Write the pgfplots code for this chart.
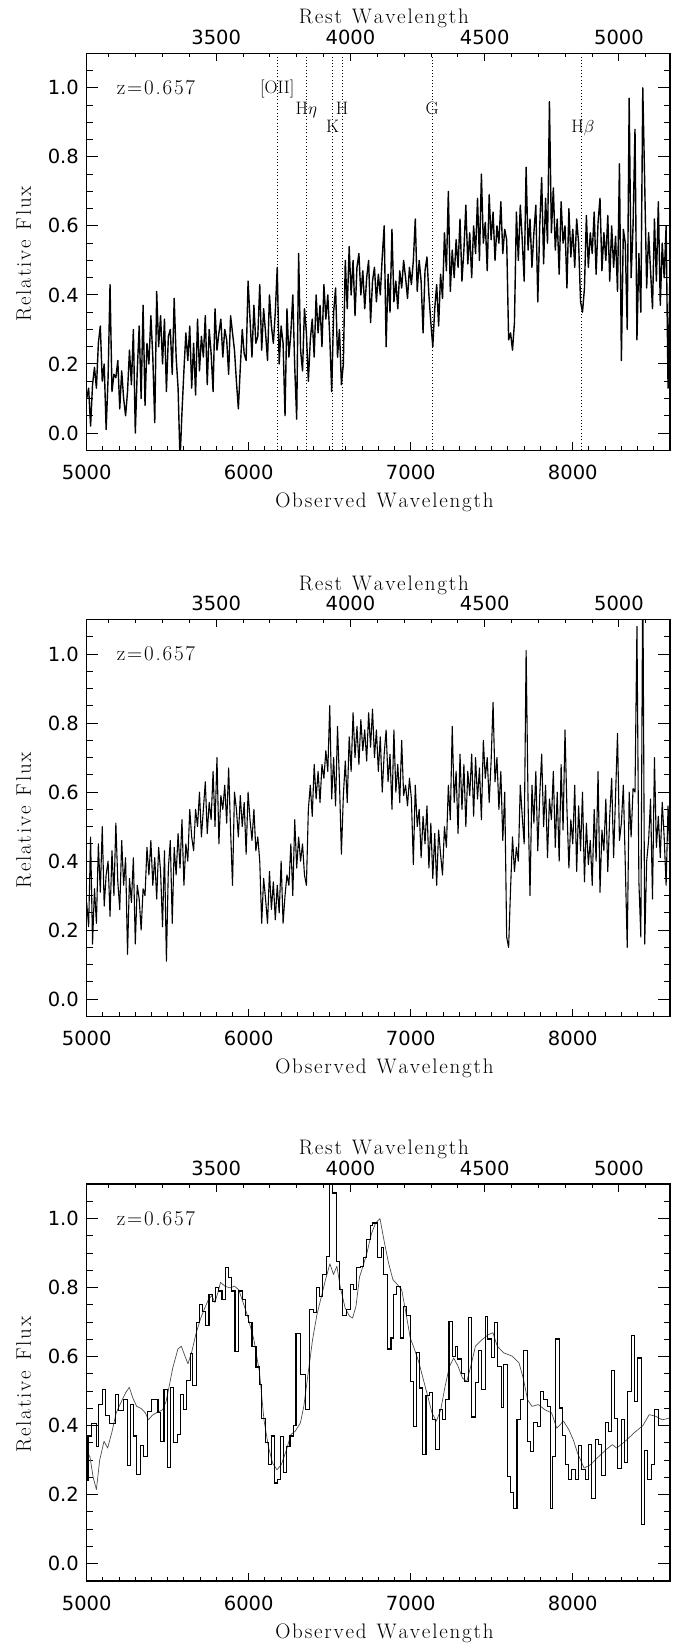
\documentclass[border=0pt]{standalone}
\usepackage{fontspec}
\usepackage{pgfplots}
\usepackage{pgfplotstable}
\pgfplotsset{compat=1.18}
\newfontfamily\tickfont{DejaVu Sans}
\newcommand\tickfs{\fontsize{19.5}{20}\selectfont\tickfont}
\newcommand\labfs{\fontsize{21}{22}\selectfont}
\newcommand\linefs{\fontsize{18}{19}\selectfont}
\makeatletter
\newcommand\lab[1]{\@tfor\sp@c:=#1\do{\sp@c\kern1.8pt}}
\makeatother

\pgfplotstableread[row sep=\\]{
x y\\
5000 0.10\\ 5012 0.13\\ 5024 0.02\\ 5036 0.14\\ 5048 0.19\\ 5060 0.13\\ 5072 0.26\\ 5084 0.31\\ 5096 0.15\\ 5108 0.20\\
5120 0.01\\ 5132 0.16\\ 5144 0.43\\ 5156 0.12\\ 5168 0.17\\ 5180 0.16\\ 5192 0.21\\ 5204 0.07\\ 5216 0.18\\ 5228 0.10\\
5240 0.05\\ 5252 0.12\\ 5264 0.24\\ 5276 0.14\\ 5288 0.30\\ 5300 0.00\\ 5312 0.18\\ 5324 0.31\\ 5336 0.10\\ 5348 0.37\\
5360 0.08\\ 5372 0.26\\ 5384 0.20\\ 5396 0.34\\ 5408 0.22\\ 5420 0.03\\ 5432 0.41\\ 5444 0.25\\ 5456 0.34\\ 5468 0.20\\
5480 0.33\\ 5492 0.12\\ 5504 0.28\\ 5516 0.30\\ 5528 0.17\\ 5540 0.39\\ 5552 0.22\\ 5564 0.13\\ 5576 -0.08\\ 5588 0.06\\
5600 0.18\\ 5612 0.29\\ 5624 0.21\\ 5636 0.31\\ 5648 0.13\\ 5660 0.26\\ 5672 0.11\\ 5684 0.33\\ 5696 0.18\\ 5708 0.28\\
5720 0.22\\ 5732 0.34\\ 5744 0.14\\ 5756 0.30\\ 5768 0.23\\ 5780 0.12\\ 5792 0.36\\ 5804 0.24\\ 5816 0.29\\ 5828 0.33\\
5840 0.22\\ 5852 0.30\\ 5864 0.27\\ 5876 0.17\\ 5888 0.34\\ 5900 0.29\\ 5912 0.24\\ 5924 0.15\\ 5936 0.07\\ 5948 0.19\\
5960 0.30\\ 5972 0.23\\ 5984 0.21\\ 5996 0.44\\ 6008 0.33\\ 6020 0.22\\ 6032 0.37\\ 6044 0.26\\ 6056 0.28\\ 6068 0.43\\
6080 0.24\\ 6092 0.36\\ 6104 0.29\\ 6116 0.21\\ 6128 0.40\\ 6140 0.31\\ 6152 0.26\\ 6164 0.35\\ 6176 0.48\\ 6188 0.20\\
6200 0.31\\ 6212 0.26\\ 6224 0.05\\ 6236 0.36\\ 6248 0.22\\ 6260 0.29\\ 6272 0.40\\ 6284 0.19\\ 6296 0.04\\ 6308 0.52\\
6320 0.24\\ 6332 0.18\\ 6344 0.36\\ 6356 0.29\\ 6368 0.15\\ 6380 0.27\\ 6392 0.33\\ 6404 0.22\\ 6416 0.40\\ 6428 0.29\\
6440 0.37\\ 6452 0.25\\ 6464 0.43\\ 6476 0.33\\ 6488 0.40\\ 6500 0.28\\ 6512 0.12\\ 6524 0.35\\ 6536 0.42\\ 6548 0.22\\
6560 0.30\\ 6572 0.14\\ 6584 0.20\\ 6596 0.50\\ 6608 0.36\\ 6620 0.54\\ 6632 0.40\\ 6644 0.50\\ 6656 0.34\\ 6668 0.48\\
6680 0.52\\ 6692 0.40\\ 6704 0.47\\ 6716 0.36\\ 6728 0.45\\ 6740 0.50\\ 6752 0.32\\ 6764 0.44\\ 6776 0.48\\ 6788 0.38\\
6800 0.46\\ 6812 0.40\\ 6824 0.51\\ 6836 0.60\\ 6848 0.25\\ 6860 0.46\\ 6872 0.35\\ 6884 0.59\\ 6896 0.38\\ 6908 0.44\\
6920 0.36\\ 6932 0.47\\ 6944 0.42\\ 6956 0.50\\ 6968 0.45\\ 6980 0.39\\ 6992 0.48\\ 7004 0.43\\ 7016 0.50\\ 7028 0.62\\
7040 0.41\\ 7052 0.50\\ 7064 0.44\\ 7076 0.29\\ 7088 0.47\\ 7100 0.51\\ 7112 0.40\\ 7124 0.32\\ 7136 0.25\\ 7148 0.36\\
7160 0.43\\ 7172 0.31\\ 7184 0.46\\ 7196 0.39\\ 7208 0.58\\ 7220 0.47\\ 7232 0.70\\ 7244 0.41\\ 7256 0.53\\ 7268 0.45\\
7280 0.56\\ 7292 0.48\\ 7304 0.62\\ 7316 0.44\\ 7328 0.53\\ 7340 0.66\\ 7352 0.49\\ 7364 0.58\\ 7376 0.45\\ 7388 0.60\\
7400 0.52\\ 7412 0.68\\ 7424 0.50\\ 7436 0.75\\ 7448 0.55\\ 7460 0.61\\ 7472 0.47\\ 7484 0.69\\ 7496 0.56\\ 7508 0.64\\
7520 0.50\\ 7532 0.60\\ 7544 0.55\\ 7556 0.67\\ 7568 0.52\\ 7580 0.59\\ 7592 0.56\\ 7604 0.27\\ 7616 0.29\\ 7628 0.24\\
7640 0.32\\ 7652 0.64\\ 7664 0.50\\ 7676 0.66\\ 7688 0.56\\ 7700 0.44\\ 7712 0.77\\ 7724 0.53\\ 7736 0.62\\ 7748 0.48\\
7760 0.58\\ 7772 0.66\\ 7784 0.38\\ 7796 0.60\\ 7808 0.74\\ 7820 0.49\\ 7832 0.68\\ 7844 0.55\\ 7856 0.96\\ 7868 0.58\\
7880 0.71\\ 7892 0.53\\ 7904 0.62\\ 7916 0.46\\ 7928 0.67\\ 7940 0.55\\ 7952 0.60\\ 7964 0.42\\ 7976 0.65\\ 7988 0.51\\
8000 0.59\\ 8012 0.48\\ 8024 0.62\\ 8036 0.55\\ 8048 0.38\\ 8060 0.35\\ 8072 0.42\\ 8084 0.63\\ 8096 0.48\\ 8108 0.58\\
8120 0.52\\ 8132 0.64\\ 8144 0.46\\ 8156 0.61\\ 8168 0.68\\ 8180 0.47\\ 8192 0.58\\ 8204 0.50\\ 8216 0.63\\ 8228 0.44\\
8240 0.60\\ 8252 0.48\\ 8264 0.57\\ 8276 0.41\\ 8288 0.78\\ 8300 0.21\\ 8312 0.59\\ 8324 0.55\\ 8336 0.30\\ 8348 0.97\\
8360 0.45\\ 8372 0.60\\ 8384 0.88\\ 8396 0.27\\ 8408 0.52\\ 8420 0.35\\ 8432 1.00\\ 8444 0.72\\ 8456 0.42\\ 8468 0.58\\
8480 0.47\\ 8492 0.36\\ 8504 0.62\\ 8516 0.44\\ 8528 0.67\\ 8540 0.37\\ 8552 0.55\\ 8564 0.45\\ 8576 0.60\\ 8588 0.13\\ 8600 0.48\\
}\specA

\pgfplotstableread[row sep=\\]{
x y\\
5000 0.28\\ 5012 0.21\\ 5024 0.47\\ 5036 0.16\\ 5048 0.32\\ 5060 0.22\\ 5072 0.45\\ 5084 0.31\\ 5096 0.50\\ 5108 0.27\\
5120 0.36\\ 5132 0.40\\ 5144 0.24\\ 5156 0.43\\ 5168 0.30\\ 5180 0.51\\ 5192 0.34\\ 5204 0.26\\ 5216 0.46\\ 5228 0.33\\
5240 0.41\\ 5252 0.13\\ 5264 0.35\\ 5276 0.28\\ 5288 0.41\\ 5300 0.16\\ 5312 0.33\\ 5324 0.29\\ 5336 0.20\\ 5348 0.32\\
5360 0.30\\ 5372 0.44\\ 5384 0.36\\ 5396 0.46\\ 5408 0.33\\ 5420 0.41\\ 5432 0.29\\ 5444 0.44\\ 5456 0.37\\ 5468 0.21\\
5480 0.43\\ 5492 0.11\\ 5504 0.38\\ 5516 0.46\\ 5528 0.22\\ 5540 0.44\\ 5552 0.36\\ 5564 0.48\\ 5576 0.38\\ 5588 0.52\\
5600 0.33\\ 5612 0.45\\ 5624 0.40\\ 5636 0.55\\ 5648 0.47\\ 5660 0.43\\ 5672 0.55\\ 5684 0.50\\ 5696 0.60\\ 5708 0.47\\
5720 0.55\\ 5732 0.63\\ 5744 0.48\\ 5756 0.57\\ 5768 0.52\\ 5780 0.66\\ 5792 0.50\\ 5804 0.70\\ 5816 0.45\\ 5828 0.59\\
5840 0.55\\ 5852 0.62\\ 5864 0.51\\ 5876 0.67\\ 5888 0.49\\ 5900 0.33\\ 5912 0.60\\ 5924 0.55\\ 5936 0.47\\ 5948 0.59\\
5960 0.50\\ 5972 0.57\\ 5984 0.42\\ 5996 0.60\\ 6008 0.52\\ 6020 0.46\\ 6032 0.55\\ 6044 0.43\\ 6056 0.47\\ 6068 0.40\\
6080 0.22\\ 6092 0.35\\ 6104 0.29\\ 6116 0.22\\ 6128 0.37\\ 6140 0.26\\ 6152 0.34\\ 6164 0.23\\ 6176 0.33\\ 6188 0.25\\
6200 0.40\\ 6212 0.22\\ 6224 0.30\\ 6236 0.36\\ 6248 0.33\\ 6260 0.45\\ 6272 0.30\\ 6284 0.52\\ 6296 0.38\\ 6308 0.47\\
6320 0.40\\ 6332 0.45\\ 6344 0.36\\ 6356 0.33\\ 6368 0.55\\ 6380 0.62\\ 6392 0.53\\ 6404 0.68\\ 6416 0.58\\ 6428 0.66\\
6440 0.57\\ 6452 0.68\\ 6464 0.64\\ 6476 0.72\\ 6488 0.66\\ 6500 0.85\\ 6512 0.58\\ 6524 0.70\\ 6536 0.56\\ 6548 0.79\\
6560 0.63\\ 6572 0.42\\ 6584 0.59\\ 6596 0.69\\ 6608 0.57\\ 6620 0.76\\ 6632 0.66\\ 6644 0.83\\ 6656 0.70\\ 6668 0.79\\
6680 0.68\\ 6692 0.81\\ 6704 0.72\\ 6716 0.78\\ 6728 0.69\\ 6740 0.83\\ 6752 0.73\\ 6764 0.84\\ 6776 0.70\\ 6788 0.78\\
6800 0.66\\ 6812 0.76\\ 6824 0.60\\ 6836 0.71\\ 6848 0.78\\ 6860 0.63\\ 6872 0.71\\ 6884 0.55\\ 6896 0.78\\ 6908 0.60\\
6920 0.68\\ 6932 0.57\\ 6944 0.75\\ 6956 0.59\\ 6968 0.62\\ 6980 0.56\\ 6992 0.64\\ 7004 0.58\\ 7016 0.39\\ 7028 0.62\\
7040 0.50\\ 7052 0.55\\ 7064 0.41\\ 7076 0.53\\ 7088 0.45\\ 7100 0.56\\ 7112 0.38\\ 7124 0.51\\ 7136 0.35\\ 7148 0.48\\
7160 0.33\\ 7172 0.49\\ 7184 0.42\\ 7196 0.36\\ 7208 0.50\\ 7220 0.44\\ 7232 0.62\\ 7244 0.52\\ 7256 0.79\\ 7268 0.57\\
7280 0.66\\ 7292 0.48\\ 7304 0.71\\ 7316 0.55\\ 7328 0.68\\ 7340 0.50\\ 7352 0.66\\ 7364 0.59\\ 7376 0.71\\ 7388 0.53\\
7400 0.70\\ 7412 0.58\\ 7424 0.67\\ 7436 0.52\\ 7448 0.75\\ 7460 0.64\\ 7472 0.70\\ 7484 0.57\\ 7496 0.69\\ 7508 0.86\\
7520 0.63\\ 7532 0.70\\ 7544 0.55\\ 7556 0.66\\ 7568 0.46\\ 7580 0.60\\ 7592 0.18\\ 7604 0.15\\ 7616 0.32\\ 7628 0.47\\
7640 0.37\\ 7652 0.44\\ 7664 0.40\\ 7676 0.62\\ 7688 0.53\\ 7700 0.45\\ 7712 1.01\\ 7724 0.57\\ 7736 0.30\\ 7748 0.62\\
7760 0.51\\ 7772 0.66\\ 7784 0.43\\ 7796 0.59\\ 7808 0.71\\ 7820 0.50\\ 7832 0.62\\ 7844 0.41\\ 7856 0.58\\ 7868 0.52\\
7880 0.66\\ 7892 0.44\\ 7904 0.60\\ 7916 0.40\\ 7928 0.68\\ 7940 0.49\\ 7952 0.78\\ 7964 0.55\\ 7976 0.38\\ 7988 0.52\\
8000 0.45\\ 8012 0.62\\ 8024 0.37\\ 8036 0.56\\ 8048 0.43\\ 8060 0.60\\ 8072 0.34\\ 8084 0.51\\ 8096 0.39\\ 8108 0.46\\
8120 0.33\\ 8132 0.55\\ 8144 0.40\\ 8156 0.66\\ 8168 0.31\\ 8180 0.49\\ 8192 0.43\\ 8204 0.58\\ 8216 0.37\\ 8228 0.53\\
8240 0.64\\ 8252 0.41\\ 8264 0.59\\ 8276 0.77\\ 8288 0.46\\ 8300 0.51\\ 8312 0.62\\ 8324 0.39\\ 8336 0.15\\ 8348 0.60\\
8360 0.47\\ 8372 0.61\\ 8384 0.60\\ 8396 1.08\\ 8408 0.34\\ 8420 0.18\\ 8432 1.25\\ 8444 0.16\\ 8456 0.40\\ 8468 0.46\\
8480 0.58\\ 8492 0.29\\ 8504 0.70\\ 8516 0.44\\ 8528 0.53\\ 8540 0.41\\ 8552 0.57\\ 8564 0.47\\ 8576 0.33\\ 8588 0.56\\ 8600 0.40\\
}\specB

\pgfplotstableread[row sep=\\]{
x y\\
5000 0.24\\ 5008 0.37\\ 5030 0.405\\ 5058 0.34\\ 5075 0.46\\ 5095 0.505\\ 5115 0.43\\ 5138 0.405\\ 5175 0.49\\ 5195 0.445\\
5228 0.475\\ 5250 0.285\\ 5268 0.46\\ 5288 0.37\\ 5310 0.258\\ 5332 0.343\\ 5352 0.31\\ 5375 0.44\\ 5398 0.475\\ 5440 0.437\\
5456 0.355\\ 5477 0.505\\ 5500 0.278\\ 5515 0.51\\ 5537 0.35\\ 5560 0.374\\ 5580 0.49\\ 5600 0.447\\ 5618 0.53\\ 5640 0.61\\
5655 0.515\\ 5675 0.698\\ 5695 0.75\\ 5715 0.73\\ 5735 0.69\\ 5755 0.78\\ 5775 0.76\\ 5795 0.80\\ 5815 0.79\\ 5835 0.765\\
5855 0.857\\ 5875 0.828\\ 5895 0.79\\ 5915 0.616\\ 5935 0.79\\ 5960 0.765\\ 5980 0.72\\ 6000 0.70\\ 6020 0.63\\ 6045 0.57\\
6066 0.52\\ 6080 0.42\\ 6101 0.35\\ 6122 0.287\\ 6142 0.37\\ 6157 0.234\\ 6177 0.245\\ 6194 0.369\\ 6214 0.263\\ 6235 0.34\\
6255 0.37\\ 6276 0.40\\ 6292 0.668\\ 6317 0.547\\ 6348 0.446\\ 6375 0.736\\ 6399 0.727\\ 6416 0.80\\ 6436 0.775\\ 6457 0.838\\
6478 0.891\\ 6498 1.25\\ 6519 1.074\\ 6539 0.876\\ 6560 0.794\\ 6581 0.72\\ 6601 0.736\\ 6626 0.808\\ 6646 0.794\\ 6667 0.857\\
6688 0.86\\ 6708 0.886\\ 6729 0.94\\ 6749 0.98\\ 6766 0.987\\ 6796 0.886\\ 6817 0.915\\ 6831 0.838\\ 6858 0.622\\ 6878 0.654\\
6893 0.78\\ 6913 0.804\\ 6934 0.654\\ 6955 0.744\\ 6975 0.719\\ 6996 0.528\\ 7016 0.398\\ 7033 0.612\\ 7053 0.509\\ 7074 0.316\\
7094 0.487\\ 7115 0.495\\ 7134 0.417\\ 7154 0.33\\ 7175 0.446\\ 7195 0.417\\ 7216 0.477\\ 7236 0.702\\ 7257 0.601\\ 7274 0.63\\
7290 0.593\\ 7311 0.55\\ 7331 0.528\\ 7356 0.712\\ 7376 0.425\\ 7397 0.525\\ 7418 0.618\\ 7438 0.504\\ 7459 0.715\\ 7475 0.651\\
7496 0.598\\ 7516 0.70\\ 7537 0.572\\ 7558 0.453\\ 7574 0.577\\ 7595 0.253\\ 7615 0.207\\ 7636 0.161\\ 7656 0.419\\ 7677 0.477\\
7697 0.618\\ 7718 0.355\\ 7739 0.326\\ 7759 0.41\\ 7780 0.398\\ 7800 0.498\\ 7821 0.475\\ 7842 0.456\\ 7862 0.16\\ 7874 0.31\\
7895 0.651\\ 7916 0.451\\ 7936 0.371\\ 7953 0.287\\ 7973 0.243\\ 7994 0.274\\ 8014 0.243\\ 8035 0.342\\ 8055 0.274\\ 8076 0.243\\
8097 0.345\\ 8117 0.19\\ 8138 0.361\\ 8158 0.345\\ 8179 0.255\\ 8200 0.408\\ 8220 0.384\\ 8241 0.56\\ 8257 0.422\\ 8278 0.277\\
8298 0.419\\ 8319 0.292\\ 8340 0.50\\ 8360 0.661\\ 8381 0.47\\ 8401 0.596\\ 8422 0.113\\ 8443 0.328\\ 8463 0.245\\ 8484 0.287\\
8504 0.446\\ 8528 0.40\\ 8600 0.40\\
}\histC

\pgfplotstableread[row sep=\\]{
x y\\
5000 0.325\\ 5020 0.31\\ 5040 0.25\\ 5060 0.215\\ 5080 0.30\\ 5107 0.355\\ 5129 0.335\\ 5155 0.38\\ 5182 0.437\\ 5214 0.47\\
5240 0.495\\ 5263 0.511\\ 5285 0.48\\ 5308 0.456\\ 5335 0.45\\ 5362 0.437\\ 5381 0.417\\ 5405 0.43\\ 5429 0.437\\ 5469 0.446\\
5490 0.47\\ 5509 0.514\\ 5531 0.567\\ 5563 0.622\\ 5584 0.63\\ 5603 0.606\\ 5625 0.579\\ 5649 0.615\\ 5676 0.669\\ 5702 0.709\\
5729 0.741\\ 5751 0.765\\ 5772 0.777\\ 5791 0.757\\ 5810 0.786\\ 5826 0.815\\ 5853 0.804\\ 5885 0.799\\ 5912 0.804\\ 5938 0.794\\
5965 0.757\\ 5992 0.719\\ 6032 0.649\\ 6067 0.553\\ 6094 0.417\\ 6121 0.34\\ 6147 0.292\\ 6174 0.272\\ 6201 0.287\\ 6233 0.33\\
6260 0.374\\ 6287 0.384\\ 6319 0.408\\ 6340 0.456\\ 6367 0.553\\ 6394 0.649\\ 6421 0.722\\ 6448 0.773\\ 6474 0.823\\ 6501 0.869\\
6523 0.838\\ 6544 0.862\\ 6566 0.799\\ 6595 0.741\\ 6622 0.717\\ 6641 0.712\\ 6662 0.746\\ 6684 0.831\\ 6702 0.857\\ 6729 0.899\\
6756 0.954\\ 6783 0.987\\ 6810 1.0\\ 6836 0.934\\ 6863 0.871\\ 6890 0.823\\ 6917 0.809\\ 6944 0.794\\ 6970 0.727\\ 6997 0.654\\
7024 0.62\\ 7051 0.582\\ 7078 0.533\\ 7105 0.485\\ 7131 0.437\\ 7158 0.413\\ 7185 0.446\\ 7212 0.514\\ 7239 0.572\\ 7265 0.596\\
7292 0.572\\ 7319 0.538\\ 7346 0.528\\ 7373 0.577\\ 7399 0.63\\ 7440 0.649\\ 7480 0.664\\ 7507 0.669\\ 7534 0.63\\ 7574 0.611\\
7627 0.601\\ 7668 0.582\\ 7694 0.538\\ 7721 0.475\\ 7748 0.456\\ 7788 0.461\\ 7828 0.446\\ 7869 0.437\\ 7901 0.393\\ 7943 0.413\\
7976 0.388\\ 8003 0.359\\ 8029 0.321\\ 8070 0.277\\ 8110 0.287\\ 8150 0.306\\ 8204 0.33\\ 8244 0.345\\ 8271 0.335\\ 8324 0.355\\
8378 0.379\\ 8432 0.40\\ 8472 0.432\\ 8512 0.427\\ 8552 0.417\\ 8600 0.422\\
}\smoothC

\pgfplotsset{
  spec/.style={scale only axis, width=583.3pt, height=397pt,
    xmin=5000, xmax=8600, ymin=-0.05, ymax=1.1,
    axis line style={line width=1.1pt, black},
    tick style={line width=1pt, black}, tick align=inside,
    anchor=south west},
  bottomax/.style={spec, xtick pos=left, ytick=\empty,
    xtick={5000,6000,7000,8000}, xticklabels={5000,6000,7000,8000},
    minor xtick={5100,5200,5300,5400,5500,5600,5700,5800,5900,6100,6200,6300,6400,6500,6600,6700,6800,6900,7100,7200,7300,7400,7500,7600,7700,7800,7900,8100,8200,8300,8400,8500},
    major tick length=7.9pt, minor tick length=4pt,
    xticklabel style={font=\tickfs, inner sep=0pt, anchor=north, yshift=-14.7pt},
    xlabel={\lab{Observed~Wavelength}},
    xlabel style={font=\labfs, at={(axis description cs:0.512,-0.1446)}, anchor=base, inner sep=0pt}},
  topax/.style={spec, xtick pos=right, xticklabel pos=right, ytick=\empty,
    xtick={5799.5,6628,7456.5,8285}, xticklabels={3500,4000,4500,5000},
    minor xtick={5136.7,5302.4,5468.1,5633.8,5965.2,6130.9,6296.6,6462.3,6793.7,6959.4,7125.1,7290.8,7622.2,7787.9,7953.6,8119.3,8450.7},
    major tick length=7.9pt, minor tick length=4pt,
    xticklabel style={font=\tickfs, inner sep=0pt, anchor=south, yshift=8.3pt},
    xlabel={\lab{Rest~Wavelength}},
    xlabel style={font=\labfs, at={(axis description cs:0.511,1.0738)}, anchor=base, inner sep=0pt}},
  yax/.style={spec, xtick=\empty,
    ytick={0,0.2,0.4,0.6,0.8,1.0}, yticklabels={0.0,0.2,0.4,0.6,0.8,1.0},
    minor ytick={0.05,0.1,0.15,0.25,0.3,0.35,0.45,0.5,0.55,0.65,0.7,0.75,0.85,0.9,0.95,1.05},
    ytick pos=both, yticklabel pos=left,
    major tick length=11.7pt, minor tick length=5.8pt,
    yticklabel style={font=\tickfs, inner sep=0pt, anchor=east, xshift=-7.7pt},
    ylabel={\lab{Relative~Flux}},
    ylabel style={font=\labfs, at={(axis description cs:-0.0955,0.497)}, anchor=base, inner sep=0pt}},
  linemark/.style={black, line width=0.9pt, dash pattern=on 1pt off 2.3pt},
}

\begin{document}
\begin{tikzpicture}
\useasboundingbox (0,0) rectangle (680pt,1643pt);

% ---------------- Panel 1 ----------------
\begin{axis}[yax, at={(86.7pt,1192.7pt)}]
\addplot[linemark] coordinates {(6175.6,-0.05) (6175.6,1.1)};
\addplot[linemark] coordinates {(6354.6,-0.05) (6354.6,1.1)};
\addplot[linemark] coordinates {(6518.4,-0.05) (6518.4,1.1)};
\addplot[linemark] coordinates {(6575.8,-0.05) (6575.8,1.1)};
\addplot[linemark] coordinates {(7132.4,-0.05) (7132.4,1.1)};
\addplot[linemark] coordinates {(8055.2,-0.05) (8055.2,1.1)};
\addplot[black, line width=1.4pt, line join=round] table[x=x, y=y] {\specA};
\node[anchor=west, inner sep=0pt, font=\labfs] at (axis cs:5185,1.0) {\lab{z=0.657}};
\node[inner sep=0pt, font=\linefs] at (axis cs:6176,0.997) {[OII]};
\node[anchor=base, inner sep=0pt, font=\linefs] at (axis cs:6355,0.922) {H$\eta$};
\node[anchor=base, inner sep=0pt, font=\linefs] at (axis cs:6518,0.870) {K};
\node[anchor=base, inner sep=0pt, font=\linefs] at (axis cs:6576,0.922) {H};
\node[anchor=base, inner sep=0pt, font=\linefs] at (axis cs:7132,0.922) {G};
\node[anchor=base, inner sep=0pt, font=\linefs] at (axis cs:8062,0.870) {H$\beta$};
\end{axis}
\begin{axis}[bottomax, at={(86.7pt,1192.7pt)}]\end{axis}
\begin{axis}[topax, at={(86.7pt,1192.7pt)}]\end{axis}

% ---------------- Panel 2 ----------------
\begin{axis}[yax, at={(86.7pt,626.5pt)}]
\addplot[black, line width=1.1pt, line join=round] table[x=x, y=y] {\specB};
\node[anchor=west, inner sep=0pt, font=\labfs] at (axis cs:5185,1.0) {\lab{z=0.657}};
\end{axis}
\begin{axis}[bottomax, at={(86.7pt,626.5pt)}]\end{axis}
\begin{axis}[topax, at={(86.7pt,626.5pt)}]\end{axis}

% ---------------- Panel 3 ----------------
\begin{axis}[yax, at={(86.7pt,62pt)}]
\addplot[black!70, line width=0.7pt, line join=round] table[x=x, y=y] {\smoothC};
\addplot[black, line width=1.1pt, const plot mark left] table[x=x, y=y] {\histC};
\node[anchor=west, inner sep=0pt, font=\labfs] at (axis cs:5185,1.0) {\lab{z=0.657}};
\end{axis}
\begin{axis}[bottomax, at={(86.7pt,62pt)}]\end{axis}
\begin{axis}[topax, at={(86.7pt,62pt)}]\end{axis}
\end{tikzpicture}
\end{document}
